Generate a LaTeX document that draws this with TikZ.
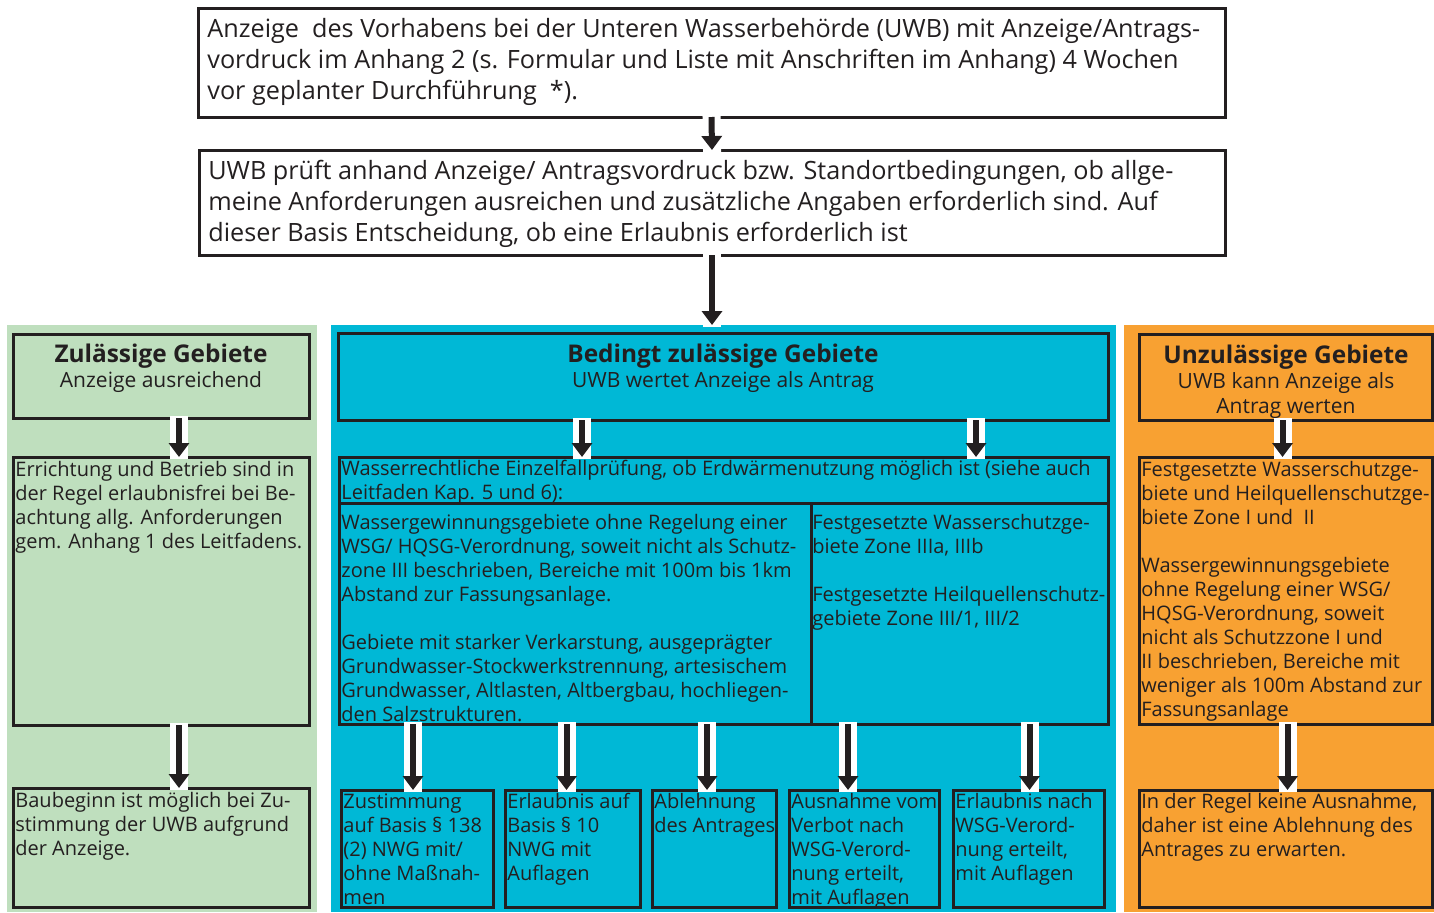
\documentclass[tikz,border=0pt]{standalone}
\usepackage{fontspec}
\setmainfont{Open Sans}
\usetikzlibrary{arrows.meta,positioning,calc}
\definecolor{inkcol}{HTML}{231F20}
\definecolor{okcol}{HTML}{BFDFBE}
\definecolor{maycol}{HTML}{00B8D6}
\definecolor{nocol}{HTML}{F8A132}

\begin{document}
\begin{tikzpicture}[x=0.5pt,y=-0.5pt,
  box/.style={draw=inkcol, line width=1.5pt, anchor=north west, inner sep=0pt, outer sep=0pt},
  panel/.style={anchor=north west, inner sep=0pt, outer sep=0pt, minimum height=293.5pt},
  bigtxt/.style={anchor=north west, align=left, inner sep=0pt, text=inkcol, font=\fontsize{12.6}{15.5}\selectfont},
  txt/.style={anchor=north west, align=left, inner sep=0pt, text=inkcol, font=\fontsize{10}{12}\selectfont},
  headtxt/.style={anchor=north, align=center, inner sep=0pt, text=inkcol, font=\fontsize{10.5}{12.5}\selectfont},
  flow/.style={line width=3pt, draw=inkcol, -{Triangle[width=10pt,length=7pt]},
    preaction={draw=white, line width=9pt, -, shorten <=-1pt, shorten >=-1pt}}
]
\useasboundingbox (0,0) rectangle (1434,912);

% the three columns
\node[panel, fill=okcol, minimum width=155pt] (okpanel) at (7,325) {};
\node[panel, fill=maycol, minimum width=392.5pt] (maypanel) at (331,325) {};
\node[panel, fill=nocol, minimum width=155pt] (nopanel) at (1124,325) {};

% top of the procedure
\node[box, minimum width=513.5pt, minimum height=54.5pt] (anzeige) at (198,8) {};
\node[bigtxt] (anzeigetxt) at (207,18) {Anzeige\ \ des Vorhabens bei der Unteren Wasserbehörde (UWB) mit Anzeige/Antrags-\\vordruck im Anhang 2 (s. Formular und Liste mit Anschriften im Anhang) 4 Wochen\\vor geplanter Durchführung\ \ *).};
\node[box, minimum width=513pt, minimum height=52.5pt] (pruefung) at (199,150) {};
\node[bigtxt] (pruefungtxt) at (208,160) {UWB prüft anhand Anzeige/ Antragsvordruck bzw. Standortbedingungen, ob allge-\\meine Anforderungen ausreichen und zusätzliche Angaben erforderlich sind. Auf\\dieser Basis Entscheidung, ob eine Erlaubnis erforderlich ist};

% zulaessige Gebiete
\node[box, minimum width=148pt, minimum height=42pt] (okhead) at (13,334) {};
\node[headtxt] (okheadtxt) at (161,344) {{\fontsize{12.2}{13.5}\selectfont\bfseries Zulässige Gebiete}\\Anzeige ausreichend};
\node[box, minimum width=148pt, minimum height=134pt] (okmid) at (13,457) {};
\node[txt] (okmidtxt) at (15,461) {Errichtung und Betrieb sind in\\der Regel erlaubnisfrei bei Be-\\achtung allg. Anforderungen\\gem. Anhang 1 des Leitfadens.};
\node[box, minimum width=148pt, minimum height=59.5pt] (okend) at (13,788) {};
\node[txt] (okendtxt) at (15,792) {Baubeginn ist möglich bei Zu-\\stimmung der UWB aufgrund\\der Anzeige.};

% bedingt zulaessige Gebiete
\node[box, minimum width=385pt, minimum height=43.5pt] (mayhead) at (338,333) {};
\node[headtxt] (mayheadtxt) at (723,344) {{\fontsize{12.2}{13.5}\selectfont\bfseries Bedingt zulässige Gebiete}\\UWB wertet Anzeige als Antrag};
\node[box, minimum width=384.5pt, minimum height=23pt] (einzel) at (339,457) {};
\node[txt] (einzeltxt) at (341,460) {Wasserrechtliche Einzelfallprüfung, ob Erdwärmenutzung möglich ist (siehe auch\\Leitfaden Kap. 5 und 6):};
\node[box, minimum width=236pt, minimum height=110.5pt] (mayleft) at (339,503) {};
\node[txt] (maylefttxt) at (341,514) {Wassergewinnungsgebiete ohne Regelung einer\\WSG/ HQSG-Verordnung, soweit nicht als Schutz-\\zone III beschrieben, Bereiche mit 100m bis 1km\\Abstand zur Fassungsanlage.\\[12pt]Gebiete mit starker Verkarstung, ausgeprägter\\Grundwasser-Stockwerkstrennung, artesischem\\Grundwasser, Altlasten, Altbergbau, hochliegen-\\den Salzstrukturen.};
\node[box, minimum width=148.5pt, minimum height=110.5pt] (mayright) at (811,503) {};
\node[txt] (mayrighttxt) at (812,514) {Festgesetzte Wasserschutzge-\\biete Zone IIIa, IIIb\\[12pt]Festgesetzte Heilquellenschutz-\\gebiete Zone III/1, III/2};

\node[box, minimum width=76pt, minimum height=58.5pt] (zustimmung) at (341,790) {};
\node[txt] (zustimmungtxt) at (343,793) {Zustimmung\\auf Basis § 138\\(2) NWG mit/\\ohne Maßnah-\\men};
\node[box, minimum width=67.5pt, minimum height=58.5pt] (erlaubnis) at (505,790) {};
\node[txt] (erlaubnistxt) at (507,793) {Erlaubnis auf\\Basis § 10\\NWG mit\\Auflagen};
\node[box, minimum width=62pt, minimum height=58.5pt] (ablehnung) at (652,790) {};
\node[txt] (ablehnungtxt) at (654,793) {Ablehnung\\des Antrages};
\node[box, minimum width=75pt, minimum height=58.5pt] (ausnahme) at (789,790) {};
\node[txt] (ausnahmetxt) at (791,793) {Ausnahme vom\\Verbot nach\\WSG-Verord-\\nung erteilt,\\mit Auflagen};
\node[box, minimum width=75.5pt, minimum height=58.5pt] (wsgerlaubnis) at (953,790) {};
\node[txt] (wsgerlaubnistxt) at (955,793) {Erlaubnis nach\\WSG-Verord-\\nung erteilt,\\mit Auflagen};

% unzulaessige Gebiete
\node[box, minimum width=146.5pt, minimum height=43pt] (nohead) at (1139,334) {};
\node[headtxt] (noheadtxt) at (1286,345) {{\fontsize{12.2}{13.5}\selectfont\bfseries Unzulässige Gebiete}\\UWB kann Anzeige als\\Antrag werten};
\node[box, minimum width=146.5pt, minimum height=133.5pt] (nomid) at (1139,457) {};
\node[txt] (nomidtxt) at (1141,461) {Festgesetzte Wasserschutzge-\\biete und Heilquellenschutzge-\\biete Zone I und\ \ II\\[12pt]Wassergewinnungsgebiete\\ohne Regelung einer WSG/\\HQSG-Verordnung, soweit\\nicht als Schutzzone I und\\II beschrieben, Bereiche mit\\weniger als 100m Abstand zur\\Fassungsanlage};
\node[box, minimum width=146.5pt, minimum height=58.5pt] (noend) at (1139,790) {};
\node[txt] (noendtxt) at (1141,793) {In der Regel keine Ausnahme,\\daher ist eine Ablehnung des\\Antrages zu erwarten.};

% arrows
\draw[flow] (anzeige.south) -- (pruefung.north);
\draw[flow] (pruefung.south) -- (pruefung.south |- maypanel.north);
\draw[flow] ($(okhead.south)+(18,0)$) -- ($(okmid.north)+(18,0)$);
\draw[flow] ($(okmid.south)+(18,0)$) -- ($(okend.north)+(18,0)$);
\draw[flow] ($(mayhead.south west)+(244,0)$) -- ($(einzel.north west)+(243,0)$);
\draw[flow] ($(mayhead.south west)+(638,0)$) -- ($(einzel.north west)+(637,0)$);
\draw[flow] ($(zustimmung.north |- mayleft.south)+(-4,0)$) -- ($(zustimmung.north)+(-4,0)$);
\draw[flow] ($(erlaubnis.north |- mayleft.south)+(-6,0)$) -- ($(erlaubnis.north)+(-6,0)$);
\draw[flow] ($(ablehnung.north |- mayleft.south)+(-7,0)$) -- ($(ablehnung.north)+(-7,0)$);
\draw[flow] ($(ausnahme.north |- mayright.south)+(-16,0)$) -- ($(ausnahme.north)+(-16,0)$);
\draw[flow] ($(wsgerlaubnis.north |- mayright.south)+(1,0)$) -- ($(wsgerlaubnis.north)+(1,0)$);
\draw[flow] ($(nohead.south)+(-3,0)$) -- ($(nomid.north)+(-3,0)$);
\draw[flow] ($(nomid.south)+(2,0)$) -- ($(noend.north)+(2,0)$);
\end{tikzpicture}
\end{document}
